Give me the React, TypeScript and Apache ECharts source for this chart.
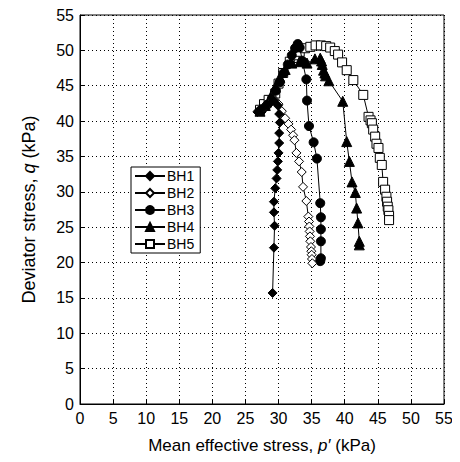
import React, { useEffect, useRef } from "react";
import * as echarts from "echarts";

const seriesNames = ["BH1", "BH2", "BH3", "BH4", "BH5"];

const BH1 = [
  [26.8, 41.3], [27.3, 41.7], [27.8, 42.0], [28.3, 42.3], [28.8, 42.6], [29.3, 42.9],
  [29.9, 42.2], [30.1, 41.0], [30.2, 39.8], [30.1, 38.3], [30.1, 36.9], [30.0, 35.5],
  [29.9, 34.3], [29.8, 33.1], [29.7, 31.9], [29.5, 30.5], [29.3, 28.6], [29.3, 27.1],
  [29.4, 25.2], [29.3, 22.1], [29.1, 15.7],
];

const BH2 = [
  [27.0, 41.5], [27.8, 42.0], [28.6, 42.5], [29.4, 43.0], [30.0, 42.4], [30.5, 41.4],
  [31.0, 40.4], [31.5, 39.6], [31.9, 38.8], [32.2, 38.0], [32.4, 37.3], [32.7, 35.5],
  [33.1, 34.3], [33.5, 32.8], [33.7, 30.7], [34.2, 28.7], [34.5, 26.5], [34.6, 25.8],
  [34.65, 25.1], [34.7, 24.4], [34.75, 23.7], [34.8, 23.0], [34.9, 22.2], [34.95, 21.6],
  [35.0, 21.1], [35.05, 20.5], [35.1, 19.9],
];

const BH3 = [
  [27.5, 41.6], [28.3, 42.3], [29.0, 43.2], [29.6, 44.3], [30.2, 45.5], [30.8, 46.8],
  [31.4, 48.0], [32.0, 49.3], [32.5, 50.3], [32.9, 50.9], [33.2, 50.4], [33.6, 48.5],
  [34.2, 45.9], [34.3, 42.9], [34.6, 39.3], [35.3, 37.0], [35.8, 34.7], [36.3, 28.4],
  [36.4, 26.4], [36.4, 24.7], [36.4, 23.0], [36.4, 20.6], [36.3, 20.2],
];

const BH4 = [
  [27.2, 41.4], [28.0, 42.2], [28.8, 43.4], [29.5, 44.8], [30.2, 46.2], [31.0, 47.3],
  [32.0, 48.2], [33.2, 48.4], [34.3, 48.2], [35.5, 48.8], [36.3, 48.9], [36.5, 48.5],
  [36.6, 48.0], [36.8, 47.2], [37.0, 46.8], [37.1, 46.4], [37.6, 45.7], [39.7, 42.8],
  [40.3, 37.1], [40.7, 34.3], [41.1, 31.4], [41.6, 29.9], [41.8, 27.7], [42.0, 25.6],
  [42.2, 23.0], [42.2, 22.5],
];

const BH5 = [
  [27.2, 41.6], [27.8, 42.4], [28.5, 43.0], [29.5, 43.9], [30.0, 45.3], [30.7, 46.8],
  [31.7, 48.4], [32.4, 49.3], [33.2, 49.8], [34.0, 50.3], [34.8, 50.5], [35.6, 50.7],
  [36.4, 50.7], [37.2, 50.6], [37.8, 50.4], [38.5, 49.9], [39.0, 49.4], [39.6, 48.3],
  [40.3, 47.2], [41.3, 45.8], [42.8, 43.7], [43.6, 40.6], [43.9, 40.1], [44.1, 39.7],
  [44.3, 38.8], [44.6, 37.8], [44.8, 36.8], [45.1, 36.2], [45.3, 34.8], [45.6, 33.8],
  [45.8, 31.4], [46.1, 30.3], [46.3, 29.3], [46.4, 28.6], [46.5, 27.9], [46.6, 27.4],
  [46.7, 26.6], [46.7, 26.0],
];

const seriesData = [BH1, BH2, BH3, BH4, BH5];
const symbols = ["diamond", "diamond", "circle", "triangle", "rect"];
const symbolSizes = [9, 9, 9, 10, 9];
const filled = [true, false, true, true, false];

const FONT = "'Liberation Sans', Arial, sans-serif";

export default function App() {
  const ref = useRef<HTMLDivElement>(null);
  useEffect(() => {
    if (!ref.current) return;
    const chart = echarts.init(ref.current, null, { renderer: "svg" });
    const axisCommon = {
      min: 0,
      max: 55,
      interval: 5,
      axisLine: { show: true, lineStyle: { color: "#000", width: 1 } },
      axisTick: { show: true, inside: true, length: 4, lineStyle: { color: "#000" } },
      axisLabel: { color: "#000", fontFamily: FONT, fontSize: 16 },
      splitLine: { show: true, lineStyle: { color: "#000", width: 1, type: [1, 3] } },
      nameLocation: "middle" as const,
    };
    chart.setOption({
      animation: false,
      backgroundColor: "#fff",
      grid: {
        left: 80,
        right: 16,
        top: 15,
        bottom: 58,
        show: true,
        borderColor: "#000",
        borderWidth: 1,
        backgroundColor: "transparent",
      },
      xAxis: {
        type: "value",
        ...axisCommon,
        axisLabel: { ...axisCommon.axisLabel, margin: 6 },
        name: "Mean effective stress, {i|p′} (kPa)",
        nameGap: 33,
        nameTextStyle: {
          color: "#000",
          fontFamily: FONT,
          fontSize: 17,
          rich: { i: { fontStyle: "italic", fontFamily: FONT, fontSize: 17, color: "#000" } },
        },
      },
      yAxis: {
        type: "value",
        ...axisCommon,
        axisLabel: { ...axisCommon.axisLabel, margin: 6 },
        name: "Deviator stress, {i|q} (kPa)",
        nameGap: 42,
        nameTextStyle: {
          color: "#000",
          fontFamily: FONT,
          fontSize: 18,
          rich: { i: { fontStyle: "italic", fontFamily: FONT, fontSize: 18, color: "#000" } },
        },
      },
      legend: {
        show: true,
        orient: "vertical",
        left: 131,
        top: 167,
        data: seriesNames,
        itemWidth: 30,
        itemHeight: 10,
        itemGap: 3,
        padding: [2, 6, 2, 3],
        borderColor: "#000",
        borderWidth: 1,
        backgroundColor: "#fff",
        textStyle: { color: "#000", fontFamily: FONT, fontSize: 14, padding: [0, 0, 0, -3] },
      },
      series: seriesNames.map((name, i) => ({
        name,
        type: "line",
        data: seriesData[i],
        symbol: symbols[i],
        symbolSize: symbolSizes[i],
        showAllSymbol: true,
        lineStyle: { color: "#000", width: 1 },
        itemStyle: {
          color: filled[i] ? "#000" : "#fff",
          borderColor: "#000",
          borderWidth: 1,
        },
        z: 10 - i,
      })),
    });
    return () => chart.dispose();
  }, []);
  return <div ref={ref} style={{ width: 460, height: 462, margin: -8 }} />;
}
